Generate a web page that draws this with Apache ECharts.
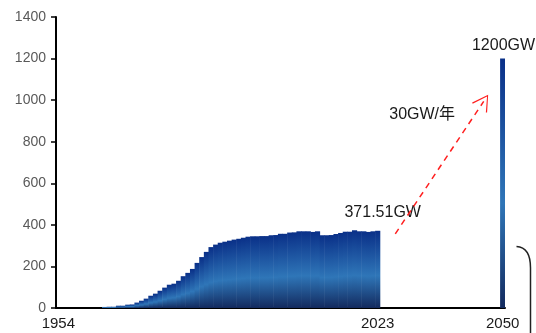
<!DOCTYPE html>
<html>
<head>
<meta charset="utf-8">
<script src="https://cdn.jsdelivr.net/npm/echarts@6/dist/echarts.min.js"></script>
<style>
  html, body { margin: 0; padding: 0; background: #fff; }
  #chart { width: 536px; height: 333px; }
</style>
</head>
<body>
<div id="chart"></div>
<script>
// Installed nuclear capacity (GW), 1954-2023, plus the 2050 target
const firstYear = 1954;
const lastActualYear = 2023;
const targetYear = 2050;
const capacityGW = [
  0, 0, 0, 0, 0, 0, 0, 0, 0, 0,
  5, 6, 6, 11, 11, 16, 17, 26, 35, 45,
  59, 69, 83, 98, 112, 117, 131, 153, 169, 188,
  217, 245, 270, 293, 305, 314, 319, 324, 329, 333,
  338, 343, 345, 345, 346, 346, 350, 351, 357, 357,
  363, 364, 369, 369, 369, 366, 369, 350, 350, 351,
  356, 361, 367, 367, 374, 369, 369, 366, 369, 371.51
];
const targetGW = 1200;
const shownYears = ['1954', '2023', '2050'];
const yTicks = { min: 0, max: 1400, step: 200 };

// Growth-path annotation, in (year, GW)
const arrowFrom = [2026.8, 357];
const arrowTo = [2045.9, 994];
const rateText = '30GW/年';
const rateTextAt = [2032.6, 930];

const years = [];
for (let y = firstYear; y <= targetYear; y++) years.push(String(y));

const barData = years.map((y) => {
  const yr = Number(y);
  if (yr <= lastActualYear) return capacityGW[yr - firstYear];
  if (yr === targetYear) return targetGW;
  return null;
});

const fontFamily = '"Liberation Sans", Arial, "Noto Sans CJK SC", sans-serif';
const barGradient = {
  type: 'linear', x: 0, y: 0, x2: 0, y2: 1,
  colorStops: [
    { offset: 0, color: '#0a3088' },
    { offset: 0.58, color: '#2f76b8' },
    { offset: 1, color: '#132a5e' }
  ]
};

const lastIdx = lastActualYear - firstYear;
const targetIdx = targetYear - firstYear;
const seriesData = barData.map((v, i) => {
  if (i === lastIdx) {
    return { value: v, label: { show: true, position: 'top', distance: 10, offset: [5, 0],
      formatter: v + 'GW', fontSize: 16, color: '#1a1a1a', fontFamily } };
  }
  if (i === targetIdx) {
    return { value: v, label: { show: true, position: 'top', distance: 5, offset: [1, 0],
      formatter: v + 'GW', fontSize: 16, color: '#1a1a1a', fontFamily } };
  }
  return v;
});

const chart = echarts.init(document.getElementById('chart'), null, { renderer: 'canvas' });
chart.setOption({
  animation: false,
  backgroundColor: '#fff',
  grid: { left: 56, right: 31, top: 17, bottom: 25, containLabel: false },
  xAxis: [
    {
      type: 'category',
      data: years,
      boundaryGap: true,
      axisLine: { lineStyle: { color: '#000', width: 2 } },
      axisTick: { show: false },
      axisLabel: {
        interval: (idx, val) => shownYears.includes(val),
        color: '#1a1a1a', fontSize: 15, margin: 8, fontFamily
      },
      splitLine: { show: false }
    },
    {
      type: 'value',
      min: firstYear - 0.5,
      max: targetYear + 0.5,
      show: false
    }
  ],
  yAxis: {
    type: 'value',
    min: yTicks.min,
    max: yTicks.max,
    interval: yTicks.step,
    axisLine: { show: true, lineStyle: { color: '#000', width: 2 } },
    axisTick: { show: true, length: 5, lineStyle: { color: '#000', width: 1.5 } },
    axisLabel: { color: '#595959', fontSize: 14, margin: 10, fontFamily,
      formatter: (v) => String(v) },
    splitLine: { show: false }
  },
  series: [
    {
      type: 'bar',
      data: seriesData,
      barWidth: '112%',
      itemStyle: { color: barGradient },
      z: 2
    },
    {
      type: 'line',
      xAxisIndex: 1,
      data: [],
      silent: true,
      markLine: {
        silent: true,
        symbol: ['none', 'path://M0,0 L10,17 L8.8,17.7 L0,2.2 L-8.8,17.7 L-10,17 Z'],
        symbolSize: [18, 16],
        label: { show: false },
        lineStyle: { color: '#ff1f1f', width: 1.5, type: [6, 5] },
        data: [[{ coord: arrowFrom }, { coord: arrowTo }]]
      },
      markPoint: {
        silent: true,
        symbol: 'circle',
        symbolSize: 0,
        label: { show: true, position: 'inside', formatter: rateText,
          fontSize: 16, color: '#1a1a1a', fontFamily },
        data: [{ coord: rateTextAt, value: 0 }]
      }
    }
  ],
  graphic: [
    {
      type: 'bezierCurve',
      silent: true,
      shape: { x1: 516.5, y1: 246.5, cpx1: 526, cpy1: 247, cpx2: 530.5, cpy2: 255, x2: 530.5, y2: 268 },
      style: { fill: 'none', stroke: '#222', lineWidth: 1.5 }
    },
    {
      type: 'line',
      silent: true,
      shape: { x1: 530.5, y1: 268, x2: 530.5, y2: 334 },
      style: { stroke: '#222', lineWidth: 1.5 }
    }
  ]
});
</script>
</body>
</html>
